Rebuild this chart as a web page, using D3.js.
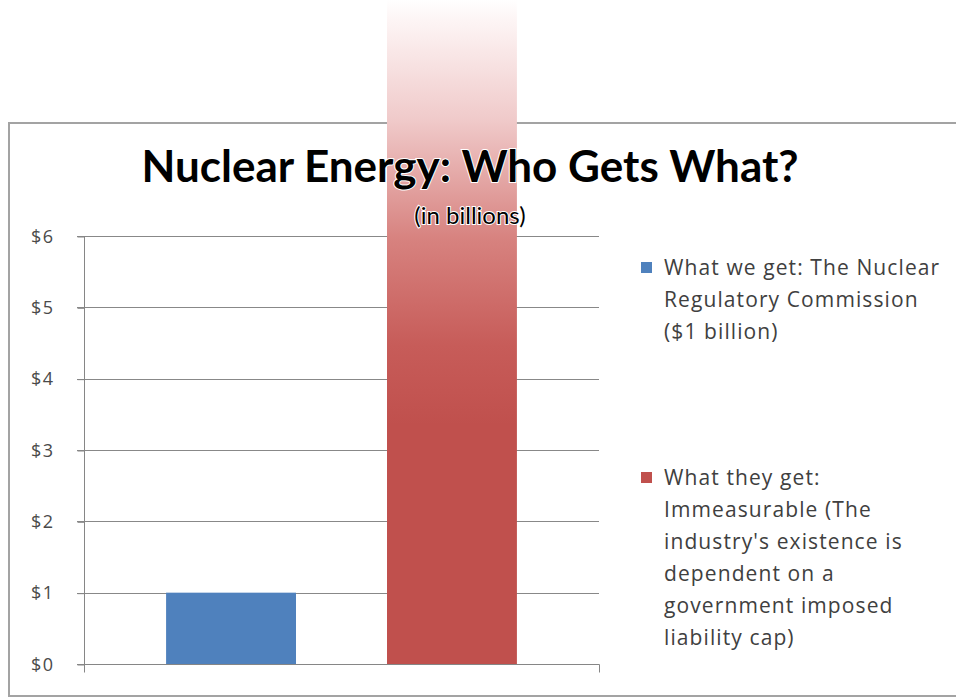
<!DOCTYPE html>
<html>
<head>
<meta charset="utf-8">
<script src="https://cdn.jsdelivr.net/npm/d3@7"></script>
<style>
  html, body { margin: 0; padding: 0; background: #ffffff; }
  svg { display: block; }
  text { font-family: Lato, "Open Sans", sans-serif; }
</style>
</head>
<body>
<svg id="chart" width="956" height="698"></svg>
<script>
// ---- data ----
const categories = [""];
const seriesNames = [
  "What we get: The Nuclear Regulatory Commission ($1 billion)",
  "What they get: Immeasurable (The industry's existence is dependent on a government imposed liability cap)"
];
const seriesValues = [1, 9.4];
const seriesColors = ["#4F81BD", "#C0504D"];
const legendLines = [
  ["What we get: The Nuclear", "Regulatory Commission", "($1 billion)"],
  ["What they get:", "Immeasurable (The", "industry's existence is", "dependent on a", "government imposed", "liability cap)"]
];
const yTicks = [0, 1, 2, 3, 4, 5, 6];
const yTickLabels = ["$0", "$1", "$2", "$3", "$4", "$5", "$6"];
const titleText = "Nuclear Energy: Who Gets What?";
const subtitleText = "(in billions)";

// ---- layout ----
const svg = d3.select("#chart");
const W = 956, H = 698;
const plot = { left: 84, right: 599, top: 236, bottom: 664 };

// frame
svg.append("rect")
  .attr("x", 9).attr("y", 123)
  .attr("width", W + 10).attr("height", 573)
  .attr("fill", "#ffffff")
  .attr("stroke", "#a3a3a3").attr("stroke-width", 2);

const y = d3.scaleLinear().domain([0, 6]).range([plot.bottom, plot.top]);
const x0 = d3.scaleBand().domain(categories).range([plot.left, plot.right])
  .paddingInner(0).paddingOuter(0.234);
const x1 = d3.scaleBand().domain(d3.range(seriesNames.length))
  .range([0, x0.bandwidth()]).paddingInner(0.412).paddingOuter(0);

// gridlines
svg.append("g").selectAll("line").data(yTicks.filter(d => d > 0)).join("line")
  .attr("x1", plot.left - 7).attr("x2", plot.right)
  .attr("y1", d => Math.round(y(d)) + 0.5).attr("y2", d => Math.round(y(d)) + 0.5)
  .attr("stroke", "#888888").attr("stroke-width", 1);

// gradient for the "immeasurable" bar
const defs = svg.append("defs");
const grad = defs.append("linearGradient").attr("id", "redFade")
  .attr("gradientUnits", "userSpaceOnUse")
  .attr("x1", 0).attr("x2", 0).attr("y1", 0).attr("y2", plot.bottom);
[
  [0.00, "#ffffff"], [0.03, "#fdf5f5"], [0.18, "#f0caca"],
  [0.36, "#d7827f"], [0.52, "#c75c59"], [0.64, seriesColors[1]], [1, seriesColors[1]]
].forEach(([o, c]) => grad.append("stop").attr("offset", o).attr("stop-color", c));

// bars
svg.append("g").selectAll("rect")
  .data(seriesValues.map((v, i) => ({ v, i })))
  .join("rect")
  .attr("x", d => x0(categories[0]) + x1(d.i))
  .attr("width", x1.bandwidth())
  .attr("y", d => Math.max(0, y(d.v)))
  .attr("height", d => plot.bottom - Math.max(0, y(d.v)))
  .attr("fill", d => d.i === 1 ? "url(#redFade)" : seriesColors[d.i]);

// y axis
const yAxis = d3.axisLeft(y).tickValues(yTicks)
  .tickFormat((d, i) => yTickLabels[i]).tickSize(7).tickPadding(23);
const gy = svg.append("g").attr("transform", `translate(${plot.left + 0.5},0.5)`).call(yAxis);
gy.select(".domain").attr("stroke", "#868686").attr("d", `M-7,${plot.top}H0V${plot.bottom + 8}`);
gy.selectAll(".tick line").attr("stroke", "#868686");
gy.selectAll(".tick text").attr("fill", "#4a4a4a")
  .style("font-family", "'Open Sans', sans-serif").style("font-size", "18px")
  .style("letter-spacing", "1.5px");

// x axis baseline
const gx = svg.append("g").attr("transform", `translate(0,${plot.bottom + 0.5})`);
gx.append("line").attr("x1", plot.left - 7).attr("x2", plot.right + 0.5)
  .attr("y1", 0).attr("y2", 0).attr("stroke", "#868686");
gx.append("line").attr("x1", plot.right + 0.5).attr("x2", plot.right + 0.5)
  .attr("y1", 0).attr("y2", 8).attr("stroke", "#868686");

// title
svg.append("text")
  .attr("x", 470).attr("y", 182)
  .attr("text-anchor", "middle")
  .style("font-family", "Lato, sans-serif")
  .style("font-weight", "bold").style("font-size", "44px")
  .attr("fill", "#000000")
  .attr("stroke", "#ffffff").attr("stroke-width", 2)
  .style("paint-order", "stroke")
  .text(titleText);
svg.append("text")
  .attr("x", 470).attr("y", 224)
  .attr("text-anchor", "middle")
  .style("font-family", "Lato, sans-serif")
  .style("font-size", "24px")
  .attr("fill", "#000000")
  .attr("stroke", "#ffffff").attr("stroke-width", 2)
  .style("paint-order", "stroke")
  .text(subtitleText);

// legend
const legendTop = [268, 478];
const lineH = 32;
legendLines.forEach((lines, i) => {
  const g = svg.append("g");
  g.append("rect").attr("x", 641).attr("y", legendTop[i] - 6)
    .attr("width", 11).attr("height", 11).attr("fill", seriesColors[i]);
  lines.forEach((t, j) => {
    g.append("text").attr("x", 664).attr("y", legendTop[i] + j * lineH)
      .attr("dy", "0.35em")
      .style("font-family", "'Open Sans', sans-serif")
      .style("font-size", "21px")
      .style("letter-spacing", "1.1px")
      .attr("fill", "#404040")
      .text(t);
  });
});
</script>
</body>
</html>
